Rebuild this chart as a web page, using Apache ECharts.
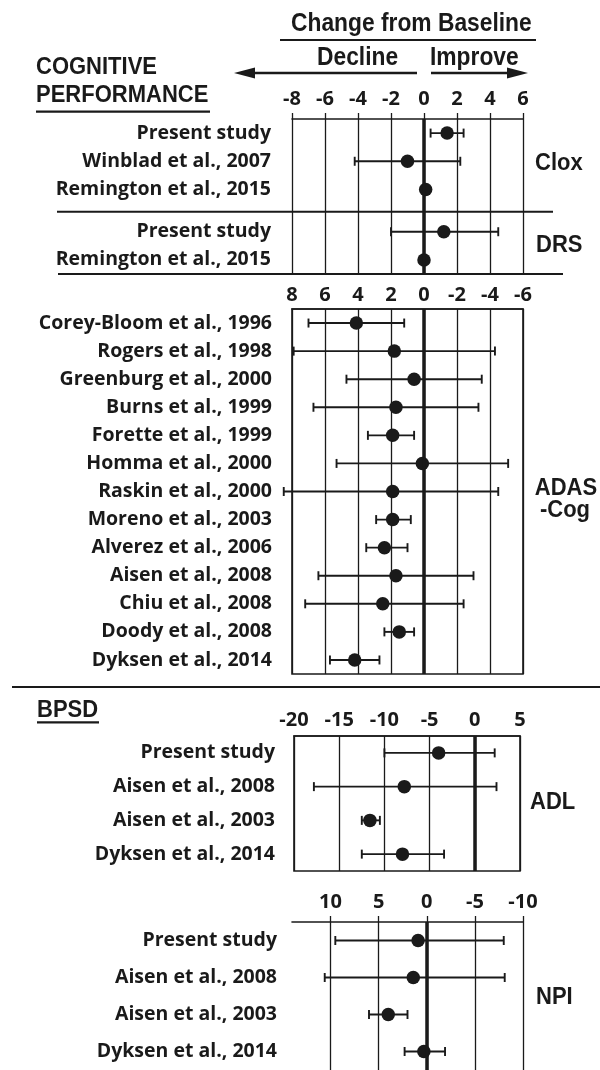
<!DOCTYPE html>
<html>
<head>
<meta charset="utf-8">
<script src="https://cdn.jsdelivr.net/npm/echarts@6/dist/echarts.min.js"></script>
<style>html,body{margin:0;padding:0;background:#fff;}#chart{width:600px;height:1070px;}</style>
</head>
<body>
<div id="chart"></div>
<script>
// ---------- DATA ----------
const cloxLabels = ['Present study', 'Winblad et al., 2007', 'Remington et al., 2015'];
const cloxMean = [1.4, -1.0, 0.1];
const cloxLow = [0.4, -4.2, null];
const cloxHigh = [2.4, 2.2, null];

const drsLabels = ['Present study', 'Remington et al., 2015'];
const drsMean = [1.2, 0.0];
const drsLow = [-2.0, null];
const drsHigh = [4.5, null];

const topTicks = { min: -8, max: 6, step: 2 };

const adasLabels = ['Corey-Bloom et al., 1996', 'Rogers et al., 1998', 'Greenburg et al., 2000',
  'Burns et al., 1999', 'Forette et al., 1999', 'Homma et al., 2000', 'Raskin et al., 2000',
  'Moreno et al., 2003', 'Alverez et al., 2006', 'Aisen et al., 2008', 'Chiu et al., 2008',
  'Doody et al., 2008', 'Dyksen et al., 2014'];
const adasMean = [4.1, 1.8, 0.6, 1.7, 1.9, 0.1, 1.9, 1.9, 2.4, 1.7, 2.5, 1.5, 4.2];
const adasLow = [1.2, -4.3, -3.5, -3.3, 0.6, -5.1, -4.5, 0.8, 1.0, -3.0, -2.4, 0.6, 2.7];
const adasHigh = [7.0, 7.9, 4.7, 6.7, 3.4, 5.3, 8.5, 2.9, 3.5, 6.4, 7.2, 2.4, 5.7];
const adasTicks = { min: -6, max: 8, step: 2 };

const adlLabels = ['Present study', 'Aisen et al., 2008', 'Aisen et al., 2003', 'Dyksen et al., 2014'];
const adlMean = [-4.0, -7.8, -11.6, -8.0];
const adlLow = [-10.0, -17.8, -12.5, -12.5];
const adlHigh = [2.2, 2.4, -10.5, -3.4];
const adlTicks = { min: -20, max: 5, step: 5 };

const npiLabels = ['Present study', 'Aisen et al., 2008', 'Aisen et al., 2003', 'Dyksen et al., 2014'];
const npiMean = [0.9, 1.4, 4.0, 0.3];
const npiLow = [-8.0, -8.1, 2.0, -1.9];
const npiHigh = [9.5, 10.6, 6.0, 2.3];
const npiTicks = { min: -10, max: 14, step: 5 };

// ---------- helpers ----------
const INK = '#1a1a1a';
const labelFont = { fontFamily: 'Open Sans', fontWeight: 700, fontSize: 19.5, color: INK };
const tickFont = { fontFamily: 'Open Sans', fontWeight: 700, fontSize: 20, color: INK };
const headFont = 'bold 22px "Liberation Sans", Arial, sans-serif';
const bigHeadFont = 'bold 22.8px "Liberation Sans", Arial, sans-serif';

// top panel rows: Clox rows then DRS rows after a half-row gap
const cloxRows = cloxLabels.map((_, i) => i);
const drsRows = drsLabels.map((_, i) => cloxLabels.length + 0.5 + i);
const topNameByRow = {};
cloxRows.forEach((r, i) => topNameByRow[r] = cloxLabels[i]);
drsRows.forEach((r, i) => topNameByRow[r] = drsLabels[i]);

function pts(mean, rows) { return mean.map((m, i) => [m, rows[i]]); }
function bars(lo, hi, rows) {
  const out = [];
  lo.forEach((l, i) => { if (l != null && hi[i] != null) out.push([l, hi[i], rows[i]]); });
  return out;
}
function idx(arr) { return arr.map((_, i) => i); }

function errRender(params, api) {
  const y = api.value(2);
  const a = api.coord([api.value(0), y]);
  const b = api.coord([api.value(1), y]);
  const h = 4.5;
  const st = { stroke: INK, lineWidth: 1.9 };
  return {
    type: 'group',
    children: [
      { type: 'line', shape: { x1: a[0], y1: a[1], x2: b[0], y2: b[1] }, style: st },
      { type: 'line', shape: { x1: a[0], y1: a[1] - h, x2: a[0], y2: a[1] + h }, style: st },
      { type: 'line', shape: { x1: b[0], y1: b[1] - h, x2: b[0], y2: b[1] + h }, style: st }
    ]
  };
}
function errSeries(gi, data) {
  return { type: 'custom', xAxisIndex: gi, yAxisIndex: gi, data: data, renderItem: errRender,
    encode: { x: [0, 1], y: 2 }, clip: false, silent: true, z: 3 };
}
function ptSeries(gi, data) {
  return { type: 'scatter', xAxisIndex: gi, yAxisIndex: gi, data: data, symbolSize: 13.5,
    itemStyle: { color: INK, opacity: 1 }, silent: true, z: 4, clip: false,
    markLine: { silent: true, symbol: ['none', 'none'], label: { show: false },
      lineStyle: { color: INK, width: 3.5, type: 'solid', opacity: 1 }, data: [{ xAxis: 0 }], animation: false } };
}
function xAx(gi, t, opts) {
  return Object.assign({
    type: 'value', gridIndex: gi, position: 'top', min: t.min, max: t.max, interval: t.step,
    axisLine: { show: true, onZero: false, lineStyle: { color: INK, width: 1.6 } },
    axisTick: { show: false },
    splitLine: { show: true, lineStyle: { color: INK, width: 1.3 } },
    axisLabel: Object.assign({ margin: 8 }, tickFont)
  }, opts);
}
function hText(x, y, text, align, font, sy) {
  return { type: 'text', x: x, y: y, scaleY: sy || 1.12,
    style: { text: text, font: font || headFont, fill: INK, textAlign: align || 'left', textVerticalAlign: 'middle',
      align: align || 'left', verticalAlign: 'middle' } };
}
function hLine(x1, y1, x2, y2, w) {
  return { type: 'line', shape: { x1: x1, y1: y1, x2: x2, y2: y2 }, style: { stroke: INK, lineWidth: w || 2 } };
}

const option = {
  animation: false,
  backgroundColor: '#fff',
  grid: [
    { left: 292, right: 77, top: 119, height: 155 },
    { left: 292, right: 77, top: 309, height: 365, show: true, borderColor: INK, borderWidth: 1.6 },
    { left: 294, right: 80, top: 736, height: 135, show: true, borderColor: INK, borderWidth: 1.6 },
    { left: 292, right: 77, top: 922, height: 152 }
  ],
  xAxis: [
    xAx(0, topTicks, { axisTick: { show: true, length: 6, lineStyle: { color: INK, width: 1.3 } },
      axisLabel: Object.assign({ margin: 10 }, tickFont) }),
    xAx(1, adasTicks, { inverse: true, axisLabel: Object.assign({ margin: 4 }, tickFont) }),
    xAx(2, adlTicks, { axisLabel: Object.assign({ margin: 6 }, tickFont) }),
    xAx(3, npiTicks, { inverse: true,
      axisTick: { show: true, length: 6, lineStyle: { color: INK, width: 1.3 } },
      splitLine: { show: true, showMaxLine: false, lineStyle: { color: INK, width: 1.3 } },
      axisLabel: Object.assign({ margin: 10, showMaxLabel: false,
        formatter: v => (v % npiTicks.step === 0 ? String(v) : '') }, tickFont) })
  ],
  yAxis: [
    { type: 'value', gridIndex: 0, inverse: true, min: -0.5, max: drsRows[drsRows.length - 1] + 0.5, interval: 0.5,
      axisLine: { show: false }, axisTick: { show: false }, splitLine: { show: false },
      axisLabel: Object.assign({ margin: 21, formatter: v => topNameByRow[v] || '' }, labelFont) },
    { type: 'category', gridIndex: 1, inverse: true, data: adasLabels,
      axisLine: { show: false }, axisTick: { show: false }, splitLine: { show: false },
      axisLabel: Object.assign({ margin: 20, interval: 0 }, labelFont) },
    { type: 'category', gridIndex: 2, inverse: true, data: adlLabels,
      axisLine: { show: false }, axisTick: { show: false }, splitLine: { show: false },
      axisLabel: Object.assign({ margin: 19, interval: 0 }, labelFont) },
    { type: 'category', gridIndex: 3, inverse: true, data: npiLabels,
      axisLine: { show: false }, axisTick: { show: false }, splitLine: { show: false },
      axisLabel: Object.assign({ margin: 15, interval: 0 }, labelFont) }
  ],
  series: [
    errSeries(0, bars(cloxLow, cloxHigh, cloxRows).concat(bars(drsLow, drsHigh, drsRows))),
    ptSeries(0, pts(cloxMean, cloxRows).concat(pts(drsMean, drsRows))),
    errSeries(1, bars(adasLow, adasHigh, idx(adasLabels))),
    ptSeries(1, pts(adasMean, idx(adasLabels))),
    errSeries(2, bars(adlLow, adlHigh, idx(adlLabels))),
    ptSeries(2, pts(adlMean, idx(adlLabels))),
    errSeries(3, bars(npiLow, npiHigh, idx(npiLabels))),
    ptSeries(3, pts(npiMean, idx(npiLabels)))
  ],
  graphic: [
    hText(291, 24, 'Change from Baseline', 'left', bigHeadFont),
    hLine(280, 40, 536, 40, 2),
    hText(317, 57.5, 'Decline', 'left', bigHeadFont),
    hText(430, 57.5, 'Improve', 'left', bigHeadFont),
    hLine(417, 73, 252, 73, 2.5),
    { type: 'polygon', shape: { points: [[234, 73], [255, 67.5], [255, 78.5]] }, style: { fill: INK } },
    hLine(431, 73, 510, 73, 2.5),
    { type: 'polygon', shape: { points: [[528, 73], [507, 67.5], [507, 78.5]] }, style: { fill: INK } },
    hText(36, 67, 'COGNITIVE'),
    hText(36, 95.5, 'PERFORMANCE'),
    hLine(36, 111.7, 210, 111.7, 2.2),
    hText(535, 163, 'Clox'),
    hText(536, 245, 'DRS'),
    hLine(57, 211.7, 553, 211.7, 2),
    hLine(58, 274, 563, 274, 2),
    hText(566, 488, 'ADAS', 'center'),
    hText(565, 510, '-Cog', 'center'),
    hLine(12, 687, 600, 687, 2),
    hText(37, 710, 'BPSD'),
    hLine(37, 722.3, 99, 722.3, 2.2),
    hText(530, 802, 'ADL'),
    hText(536, 997, 'NPI')
  ]
};

const chart = echarts.init(document.getElementById('chart'), null, { renderer: 'canvas' });
chart.setOption(option);
</script>
</body>
</html>
